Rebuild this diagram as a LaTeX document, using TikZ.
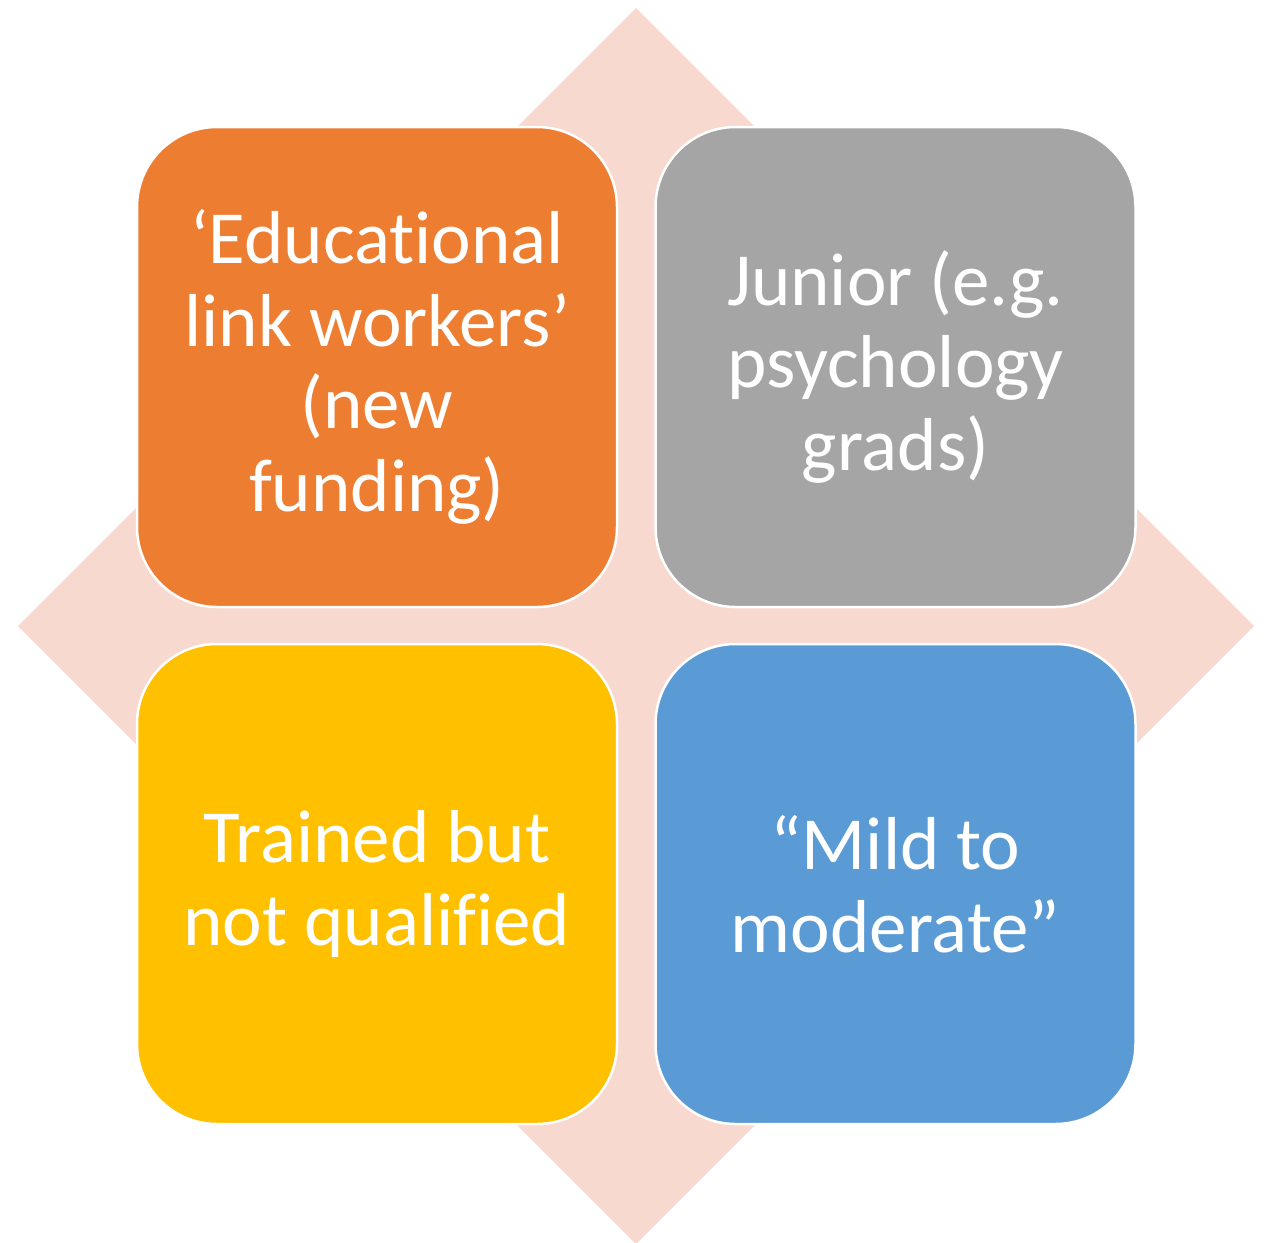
\documentclass[tikz,border=0pt]{standalone}
\usepackage{fontspec}
\setmainfont[Ligatures=NoCommon]{Carlito}
\definecolor{backpink}{HTML}{F7D9CF}
\definecolor{tileorange}{HTML}{ED7D31}
\definecolor{tilegrey}{HTML}{A5A5A5}
\definecolor{tileyellow}{HTML}{FFC000}
\definecolor{tileblue}{HTML}{5B9BD5}
\begin{document}
\begin{tikzpicture}[x=1pt,y=-1pt,
  tile/.style={rectangle, rounded corners=80pt, draw=white, line width=2.5pt,
    minimum size=480pt, inner sep=0pt, text=white, align=center,
    font=\fontsize{75}{82.5}\selectfont}]
\useasboundingbox (0,0) rectangle (1266,1242);
\fill [backpink] (636,8) -- (1254,626) -- (636,1244) -- (18,626) -- cycle;
\node [tile, fill=tileorange] (links) at (377,367) {‘Educational\\link workers’\\(new\\funding)};
\node [tile, fill=tilegrey] (junior) at (895.5,367) {Junior (e.g.\\psychology\\grads)};
\node [tile, fill=tileyellow] (trained) at (377,884) {Trained but\\not qualified};
\node [tile, fill=tileblue] (mild) at (895.5,884) {“Mild to\\moderate”};
\end{tikzpicture}
\end{document}
